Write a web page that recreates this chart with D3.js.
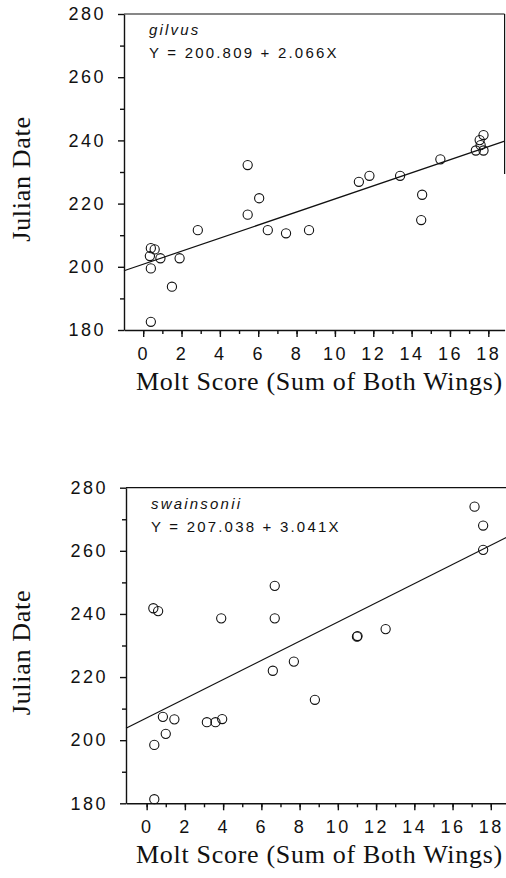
<!DOCTYPE html>
<html lang="en">
<head>
<meta charset="UTF-8">
<title>Julian Date vs Molt Score</title>
<script src="https://d3js.org/d3.v7.min.js"></script>
<style>
  body { margin: 0; background: #fff; }
  svg { display: block; }
  .tick text { font-family: "Liberation Sans", Arial, sans-serif; font-size: 18px; letter-spacing: 2.5px; fill: #111; }
  .domain, .tick line { stroke: #111; stroke-width: 1.4; }
  .title { font-family: "Liberation Serif", "Times New Roman", serif; font-size: 26px; letter-spacing: 0.7px; fill: #111; }
  .note { font-family: "Liberation Sans", Arial, sans-serif; font-size: 15px; letter-spacing: 2.2px; fill: #111; }
</style>
</head>
<body>
<svg width="506" height="878"></svg>
<script>
// data
var gilvusX = [0.4, 0.6, 0.35, 0.9, 0.4, 1.9, 1.5, 0.4, 2.85, 5.45, 5.45, 6.05, 6.5, 7.45, 8.65,
               11.25, 11.8, 13.4, 14.55, 14.5, 15.5, 17.35, 17.75, 17.55, 17.75, 17.6];
var gilvusY = [205.9, 205.5, 203.4, 202.7, 199.5, 202.7, 193.7, 182.6, 211.6, 232.2, 216.5, 221.7, 211.6, 210.6, 211.6,
               226.9, 228.8, 228.8, 222.8, 214.8, 234.0, 236.8, 236.8, 240.1, 241.7, 238.5];

var swainX = [0.35, 0.6, 3.9, 6.7, 6.7, 6.6, 7.7, 11.0, 11.03, 12.5, 8.8, 0.85, 1.45, 1.0, 3.15, 3.6, 3.95,
              17.15, 17.6, 17.6, 0.4, 0.4];
var swainY = [241.8, 240.9, 238.6, 248.9, 238.6, 222.0, 224.9, 232.8, 233.0, 235.2, 212.8, 207.4, 206.6, 202.0, 205.7, 205.7, 206.7,
              274.0, 268.0, 260.3, 198.5, 181.3];

var xTicks = [0, 2, 4, 6, 8, 10, 12, 14, 16, 18];
var yTicks = [180, 200, 220, 240, 260, 280];

var panels = [
  { name: "gilvus", eq: "Y = 200.809 + 2.066X", a: 200.809, b: 2.066, xs: gilvusX, ys: gilvusY,
    left: 124, right: 504.6, xmin: -1.0, xmax: 18.85, top: 14, bottom: 330, frameRight: true },
  { name: "swainsonii", eq: "Y = 207.038 + 3.041X", a: 207.038, b: 3.041, xs: swainX, ys: swainY,
    left: 126, right: 508, xmin: -1.08, xmax: 18.9, top: 487.7, bottom: 803.3, frameRight: false }
];

var svg = d3.select("svg");

panels.forEach(function(p) {
  var x = d3.scaleLinear().domain([p.xmin, p.xmax]).range([p.left, p.right]);
  var y = d3.scaleLinear().domain([180, 280]).range([p.bottom, p.top]);
  var g = svg.append("g");

  // frame
  g.append("line").attr("x1", p.left).attr("x2", p.right).attr("y1", p.top).attr("y2", p.top)
    .attr("stroke", "#111").attr("stroke-width", 1.2);
  if (p.frameRight) {
    g.append("line").attr("x1", p.right).attr("x2", p.right).attr("y1", p.top).attr("y2", p.top + 160)
      .attr("stroke", "#111").attr("stroke-width", 1.2);
  }

  // minor ticks
  g.append("g").attr("transform", "translate(0," + p.bottom + ")")
    .call(d3.axisBottom(x).tickValues(d3.range(0, 19)).tickSize(4).tickFormat(""))
    .call(function(s) { s.select(".domain").remove(); });
  g.append("g").attr("transform", "translate(" + p.left + ",0)")
    .call(d3.axisLeft(y).tickValues(d3.range(190, 280, 20)).tickSize(4).tickFormat(""))
    .call(function(s) { s.select(".domain").remove(); });

  // major ticks
  g.append("g").attr("transform", "translate(0," + p.bottom + ")")
    .call(d3.axisBottom(x).tickValues(xTicks).tickSize(7).tickSizeOuter(0).tickPadding(10));
  g.append("g").attr("transform", "translate(" + p.left + ",0)")
    .call(d3.axisLeft(y).tickValues(yTicks).tickSize(6).tickSizeOuter(0).tickPadding(12));

  // regression line
  g.append("line")
    .attr("x1", x(p.xmin)).attr("y1", y(p.a + p.b * p.xmin))
    .attr("x2", x(p.xmax)).attr("y2", y(p.a + p.b * p.xmax))
    .attr("stroke", "#111").attr("stroke-width", 1.2);

  // points
  g.selectAll("circle").data(p.xs).enter().append("circle")
    .attr("cx", function(d) { return x(d); })
    .attr("cy", function(d, i) { return y(p.ys[i]); })
    .attr("r", 4.6)
    .attr("fill", "none").attr("stroke", "#111").attr("stroke-width", 1.1);

  // annotation
  g.append("text").attr("class", "note").attr("x", p.left + 25).attr("y", p.top + 21)
    .style("font-style", "italic").text(p.name);
  g.append("text").attr("class", "note").attr("x", p.left + 25).attr("y", p.top + 44).text(p.eq);

  // axis titles
  g.append("text").attr("class", "title")
    .attr("transform", "translate(30," + ((p.top + p.bottom) / 2 + 7) + ") rotate(-90)")
    .attr("text-anchor", "middle").text("Julian Date");
  g.append("text").attr("class", "title").attr("x", 136).attr("y", p.bottom + 60)
    .text("Molt Score (Sum of Both Wings)");
});
</script>
</body>
</html>
